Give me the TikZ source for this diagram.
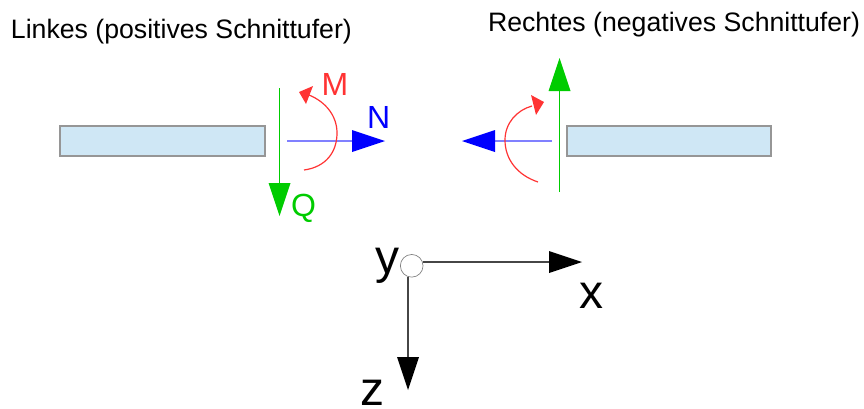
\documentclass[tikz,border=0pt]{standalone}
\usepackage{fontspec}
\setmainfont{Liberation Sans}
\definecolor{qgreen}{RGB}{0,204,0}
\definecolor{mred}{RGB}{255,51,51}
\definecolor{nblue}{RGB}{0,0,255}
\definecolor{nblueline}{RGB}{128,128,255}
\definecolor{axisgray}{RGB}{70,70,70}
\definecolor{beam}{RGB}{207,231,245}
\definecolor{beamline}{RGB}{150,150,150}
\tikzset{
  beambox/.style={draw=beamline,fill=beam,line width=0.9pt},
  lbl/.style={anchor=base west,inner sep=0pt,outer sep=0pt},
  toptext/.style={lbl,font=\fontsize{20}{24}\selectfont,text=black},
  force/.style={lbl,font=\fontsize{24}{28}\selectfont},
  axislabel/.style={lbl,font=\fontsize{36}{42}\selectfont,text=black},
  qline/.style={draw=qgreen,line width=1.1pt},
  nline/.style={draw=nblueline,line width=1.1pt},
  mline/.style={draw=mred,line width=0.9pt},
  axisline/.style={draw=axisgray,line width=0.9pt},
}
\begin{document}
\begin{tikzpicture}[x=0.75pt,y=-0.75pt]
\useasboundingbox (0,0) rectangle (864,408);
% labels
\node[toptext] (ltitle) at (11,38) {Linkes (positives Schnittufer)};
\node[toptext] (rtitle) at (488,31) {Rechtes (negatives Schnittufer)};
% beams
\draw[beambox] (60,126) rectangle (265,156);
\draw[beambox] (567,126) rectangle (771,156);
% left section
\coordinate (qls) at (279.5,88); \coordinate (qlb) at (279.5,184); \coordinate (qle) at (279.5,216);
\draw[qline] (qls) -- (qlb);
\fill[qgreen] (qle) -- ++(-11,-33) -- ++(22,0) -- cycle;
\coordinate (nls) at (287,141); \coordinate (nlb) at (353,141); \coordinate (nle) at (385,141);
\draw[nline] (nls) -- (nlb);
\fill[nblue] (nle) -- ++(-33,-11) -- ++(0,22) -- cycle;
\draw[mline] (304,170) .. controls (326,167) and (337,152) .. (337,133) .. controls (337,116) and (326,102) .. (309,95);
\fill[mred] (299,92) -- (313,86) -- (306,104) -- cycle;
\node[force,text=mred] (m) at (321.5,95) {M};
\node[force,text=nblue] (n) at (367,128) {N};
\node[force,text=qgreen] (q) at (291,216) {Q};
% right section
\coordinate (qrs) at (559.5,192); \coordinate (qrb) at (559.5,91); \coordinate (qre) at (559.5,58);
\draw[qline] (qrs) -- (qrb);
\fill[qgreen] (qre) -- ++(-11,33) -- ++(22,0) -- cycle;
\coordinate (nrs) at (552,141); \coordinate (nrb) at (494,141); \coordinate (nre) at (462,141);
\draw[nline] (nrs) -- (nrb);
\fill[nblue] (nre) -- ++(33,-11) -- ++(0,22) -- cycle;
\draw[mline] (538,182) .. controls (517,175) and (505,159) .. (505,140) .. controls (505,123) and (517,110) .. (532,106);
\fill[mred] (544,102) -- (531,95) -- (536,115) -- cycle;
% axes
\node[draw=black!50,fill=white,circle,minimum size=17pt,inner sep=0pt,line width=0.5pt] (o) at (411.7,265.8) {};
\coordinate (xs) at (423,262); \coordinate (xb) at (549,262); \coordinate (xe) at (582,262);
\coordinate (zs) at (408,277); \coordinate (zb) at (408,357); \coordinate (ze) at (408,390);
\draw[axisline] (xs) -- (xb);
\fill[black] (xe) -- ++(-33,-11) -- ++(0,22) -- cycle;
\draw[axisline] (zs) -- (zb);
\fill[black] (ze) -- ++(-11,-33) -- ++(22,0) -- cycle;
\node[axislabel] (y) at (375,273) {y};
\node[axislabel] (x) at (579,308) {x};
\node[axislabel] (z) at (360,405) {z};
\end{tikzpicture}
\end{document}
